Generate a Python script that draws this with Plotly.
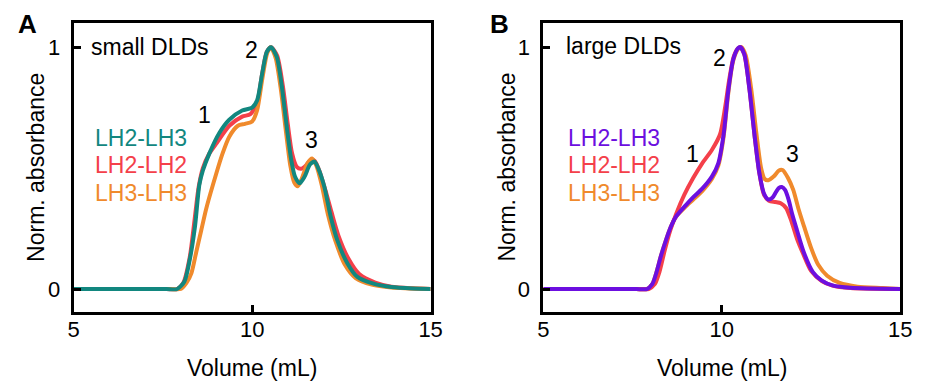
import plotly.graph_objects as go

# ---------------- data ----------------
# Panel A (small DLDs)
a_teal_x = [5.0, 6.0, 7.0, 7.6, 7.9, 8.1, 8.25, 8.4, 8.52, 8.62, 8.8, 9.08, 9.36, 9.72, 10.0, 10.14, 10.28, 10.41, 10.53,
            10.69, 10.83, 10.97, 11.1, 11.2, 11.33, 11.47, 11.62, 11.75, 11.85, 12.02, 12.2, 12.39, 12.67,
            12.95, 13.4, 13.9, 14.5, 15.0]
a_teal_y = [0, 0, 0, 0, 0, 0.03, 0.12, 0.26, 0.43, 0.49, 0.56, 0.645, 0.70, 0.738, 0.75, 0.78, 0.89, 0.98, 1.0,
            0.96, 0.84, 0.67, 0.53, 0.465, 0.437, 0.465, 0.515, 0.527, 0.50, 0.424, 0.30, 0.20, 0.106,
            0.05, 0.022, 0.008, 0.002, 0]

a_red_x = [5.0, 6.0, 7.0, 7.6, 7.9, 8.07, 8.25, 8.39, 8.5, 8.62, 8.8, 8.99, 9.36, 9.72, 9.95, 10.14, 10.28, 10.41, 10.53,
           10.7, 10.86, 11.0, 11.12, 11.25, 11.37, 11.5, 11.65, 11.75, 11.88, 12.05, 12.22, 12.42, 12.7,
           13.0, 13.45, 13.9, 14.5, 15.0]
a_red_y = [0, 0, 0, 0, 0, 0.025, 0.13, 0.29, 0.42, 0.50, 0.56, 0.60, 0.675, 0.713, 0.723, 0.77, 0.89, 0.98, 1.0,
           0.965, 0.84, 0.68, 0.56, 0.505, 0.497, 0.51, 0.535, 0.53, 0.49, 0.41, 0.32, 0.22, 0.125,
           0.062, 0.027, 0.01, 0.003, 0]

a_orange_x = [5.0, 6.0, 7.0, 7.7, 8.0, 8.16, 8.3, 8.43, 8.57, 8.71, 8.9, 9.17, 9.36, 9.6, 9.8, 10.0, 10.14, 10.28, 10.42,
              10.52, 10.66, 10.8, 10.94, 11.07, 11.18, 11.28, 11.4, 11.55, 11.68, 11.8, 11.95, 12.12,
              12.33, 12.6, 12.9, 13.35, 13.9, 15.0]
a_orange_y = [0, 0, 0, 0, 0, 0.025, 0.066, 0.15, 0.24, 0.33, 0.43, 0.56, 0.63, 0.675, 0.683, 0.693, 0.74, 0.865, 0.975,
              1.0, 0.955, 0.83, 0.66, 0.51, 0.44, 0.425, 0.46, 0.52, 0.54, 0.51, 0.43, 0.31,
              0.20, 0.10, 0.045, 0.018, 0.006, 0]

# Panel B (large DLDs)
b_purple_x = [5.0, 6.0, 7.0, 7.6, 7.9, 8.05, 8.15, 8.3, 8.43, 8.55, 8.72, 8.98, 9.2, 9.45, 9.72, 9.9, 10.05, 10.18, 10.32,
              10.45, 10.52, 10.63, 10.77, 10.92, 11.05, 11.18, 11.3, 11.42, 11.52, 11.6, 11.68, 11.77, 11.87, 11.97,
              12.1, 12.3, 12.55, 12.8, 13.1, 13.6, 15.0]
b_purple_y = [0, 0, 0, 0, 0, 0.02, 0.06, 0.14, 0.20, 0.25, 0.30, 0.345, 0.38, 0.415, 0.465, 0.52, 0.64, 0.82, 0.95,
              0.995, 1.0, 0.97, 0.83, 0.63, 0.48, 0.395, 0.37, 0.378, 0.402, 0.418, 0.422, 0.41, 0.37, 0.31,
              0.245, 0.15, 0.07, 0.035, 0.015, 0.005, 0]

b_red_x = [5.0, 6.0, 7.0, 7.6, 7.95, 8.12, 8.25, 8.4, 8.55, 8.72, 8.95, 9.2, 9.45, 9.72, 9.95, 10.09, 10.2, 10.33, 10.45,
           10.52, 10.63, 10.77, 10.92, 11.05, 11.18, 11.32, 11.5, 11.65, 11.8, 11.95, 12.1, 12.28, 12.5,
           12.8, 13.1, 13.6, 15.0]
b_red_y = [0, 0, 0, 0, 0, 0.02, 0.07, 0.16, 0.24, 0.31, 0.39, 0.46, 0.52, 0.575, 0.64, 0.75, 0.86, 0.96, 0.995,
           1.0, 0.97, 0.83, 0.63, 0.48, 0.39, 0.365, 0.36, 0.355, 0.335, 0.28, 0.21, 0.145, 0.075,
           0.033, 0.014, 0.004, 0]

b_orange_x = [5.0, 6.0, 7.0, 7.6, 7.9, 8.05, 8.15, 8.3, 8.43, 8.55, 8.72, 8.98, 9.2, 9.45, 9.72, 9.9, 10.05, 10.18, 10.32,
              10.47, 10.55, 10.67, 10.82, 10.97, 11.1, 11.2, 11.3, 11.45, 11.6, 11.7, 11.85, 12.0, 12.15,
              12.3, 12.5, 12.7, 12.95, 13.3, 13.8, 14.5, 15.0]
b_orange_y = [0, 0, 0, 0, 0, 0.02, 0.06, 0.14, 0.20, 0.25, 0.30, 0.34, 0.37, 0.405, 0.455, 0.51, 0.63, 0.81, 0.945,
              0.995, 1.0, 0.965, 0.83, 0.64, 0.50, 0.455, 0.45, 0.465, 0.49, 0.492, 0.46, 0.41, 0.33,
              0.26, 0.17, 0.10, 0.055, 0.025, 0.01, 0.004, 0]

series_names = ["LH2-LH3", "LH2-LH2", "LH3-LH3"]
x_ticks = [5, 10, 15]
y_ticks = [0, 1]

TEAL = "#12877f"
RED = "#f4404a"
ORANGE = "#f08a2c"
PURPLE = "#6c0fe0"
FONT = "Liberation Sans, Arial, sans-serif"

fig = go.Figure()

def add(x, y, color, xa, ya):
    fig.add_trace(go.Scatter(x=x, y=y, mode="lines", xaxis=xa, yaxis=ya,
                             line=dict(color=color, width=4, shape="spline", smoothing=0.7),
                             showlegend=False, hoverinfo="skip"))

# Panel A: red, orange, teal (teal on top)
add(a_red_x, a_red_y, RED, "x", "y")
add(a_orange_x, a_orange_y, ORANGE, "x", "y")
add(a_teal_x, a_teal_y, TEAL, "x", "y")
# Panel B: orange, red, purple (purple on top)
add(b_orange_x, b_orange_y, ORANGE, "x2", "y2")
add(b_red_x, b_red_y, RED, "x2", "y2")
add(b_purple_x, b_purple_y, PURPLE, "x2", "y2")

W, H = 929, 383
ydom = [(383 - 312) / H, (383 - 23) / H]
xdomA = [69 / W, 433 / W]
xdomB = [548 / W, 912 / W]

axis_common = dict(showline=True, linecolor="black", linewidth=3, mirror=True,
                   showgrid=False, zeroline=False, ticks="inside", ticklen=7,
                   tickwidth=3, tickcolor="black",
                   tickfont=dict(family=FONT, size=22, color="black"))

fig.update_layout(
    width=W, height=H, margin=dict(l=0, r=0, t=0, b=0),
    paper_bgcolor="white", plot_bgcolor="white",
    font=dict(family=FONT, size=23, color="black"),
    xaxis=dict(domain=xdomA, range=[5, 15], tickvals=x_ticks, ticklabelstandoff=-4, anchor="y", **axis_common),
    yaxis=dict(domain=ydom, range=[-0.095, 1.1], tickvals=y_ticks, ticklabelstandoff=6, anchor="x", **axis_common),
    xaxis2=dict(domain=xdomB, range=[5, 15], tickvals=x_ticks, ticklabelstandoff=-4, anchor="y2", **axis_common),
    yaxis2=dict(domain=ydom, range=[-0.095, 1.1], tickvals=y_ticks, ticklabelstandoff=6, anchor="x2", **axis_common),
)

ann = []
def txt(x, y, s, xref, yref, size=23, color="black", xanchor="center", bold=False, angle=0):
    ann.append(dict(x=x, y=y, xref=xref, yref=yref, text=f"<b>{s}</b>" if bold else s,
                    showarrow=False, xanchor=xanchor, yanchor="middle", textangle=angle,
                    font=dict(family=FONT, size=size, color=color)))

# panel letters
txt(22 / W, (383 - 24) / H, "A", "paper", "paper", size=26, bold=True)
txt(503 / W, (383 - 24) / H, "B", "paper", "paper", size=26, bold=True)
# axis titles
txt((69 + 433) / 2 / W, (383 - 368) / H, "Volume (mL)", "paper", "paper")
txt((548 + 912) / 2 / W, (383 - 368) / H, "Volume (mL)", "paper", "paper")
txt(30 / W, (383 - 167.5) / H, "Norm. absorbance", "paper", "paper", angle=-90)
txt(510 / W, (383 - 167.5) / H, "Norm. absorbance", "paper", "paper", angle=-90)
# panel titles
txt(5.44, 1.0, "small DLDs", "x", "y", xanchor="left")
txt(5.585, 1.005, "large DLDs", "x2", "y2", xanchor="left")
# peak numbers
txt(8.67, 0.72, "1", "x", "y")
txt(9.98, 0.99, "2", "x", "y")
txt(11.66, 0.617, "3", "x", "y")
txt(9.18, 0.56, "1", "x2", "y2")
txt(9.94, 0.955, "2", "x2", "y2")
txt(11.97, 0.56, "3", "x2", "y2")
# legends
rows = [0.625, 0.513, 0.398]
for name, col, yy in zip(series_names, [TEAL, RED, ORANGE], rows):
    txt(8.22, yy, name, "x", "y", color=col, xanchor="right")
for name, col, yy in zip(series_names, [PURPLE, RED, ORANGE], rows):
    txt(8.33, yy, name, "x2", "y2", color=col, xanchor="right")

fig.update_layout(annotations=ann)
fig.write_html("out.html")
